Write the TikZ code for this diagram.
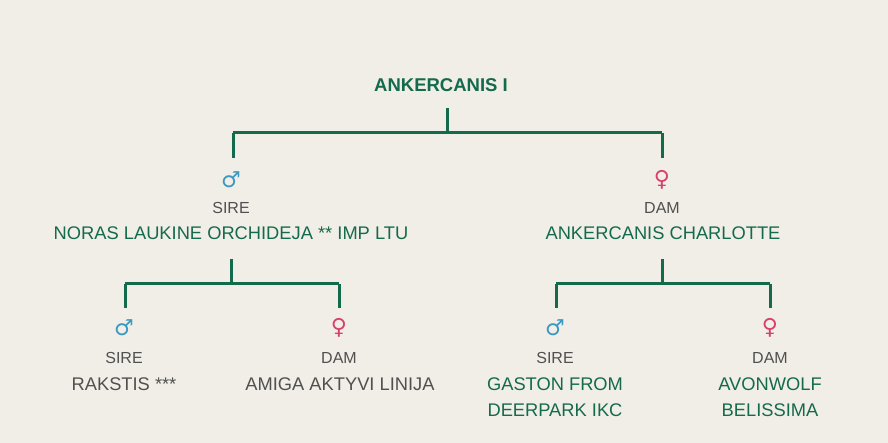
\documentclass[tikz,border=0pt]{standalone}
\usepackage{fontspec}
\setmainfont{Liberation Sans}
\newfontfamily\symf{DejaVu Sans}
\definecolor{bg}{HTML}{F1EEE7}
\definecolor{grn}{HTML}{146A4C}
\definecolor{mblue}{HTML}{3A98C2}
\definecolor{fpink}{HTML}{D6416D}
\definecolor{gtxt}{HTML}{505050}
\begin{document}
\begin{tikzpicture}[x=1pt,y=-1pt,
  ln/.style={draw=grn,line width=3pt},
  nm/.style={text=grn,font=\fontsize{18.3}{26}\selectfont,align=center,inner sep=0pt},
  rl/.style={text=gtxt,font=\fontsize{16}{18}\selectfont,inner sep=0pt},
  ms/.style={text=mblue,font=\symf\fontsize{22}{22}\selectfont,inner sep=0pt},
  fs/.style={text=fpink,font=\symf\fontsize{22}{22}\selectfont,inner sep=0pt}]
\fill[bg] (0,0) rectangle (888,443);
\useasboundingbox (0,0) rectangle (888,443);
\node[nm,font=\bfseries\fontsize{18.5}{20}\selectfont] (root) at (441,85) {ANKERCANIS I};
\coordinate (r0) at (447,108); \coordinate (r1) at (447,133);
\coordinate (rl) at (233,133); \coordinate (rr) at (662,133);
\coordinate (rld) at (233,158); \coordinate (rrd) at (662,158);
\draw[ln] (r0)--(r1); \draw[ln] (rl)--(rr); \draw[ln] (rl)--(rld); \draw[ln] (rr)--(rrd);
\node[ms] (s1) at (231,180) {♂};
\node[rl] (s1r) at (231,208) {SIRE};
\node[nm] (s1n) at (231,233) {NORAS LAUKINE ORCHIDEJA ** IMP LTU};
\node[fs] (d1) at (662,180) {♀};
\node[rl] (d1r) at (662,208) {DAM};
\node[nm] (d1n) at (663,233) {ANKERCANIS CHARLOTTE};
\coordinate (a0) at (231,259); \coordinate (a1) at (231,284);
\coordinate (al) at (125,284); \coordinate (ar) at (339,284);
\coordinate (ald) at (125,308); \coordinate (ard) at (339,308);
\draw[ln] (a0)--(a1); \draw[ln] (al)--(ar); \draw[ln] (al)--(ald); \draw[ln] (ar)--(ard);
\coordinate (b0) at (662,259); \coordinate (b1) at (662,284);
\coordinate (bl) at (556,284); \coordinate (br) at (770,284);
\coordinate (bld) at (556,308); \coordinate (brd) at (770,308);
\draw[ln] (b0)--(b1); \draw[ln] (bl)--(br); \draw[ln] (bl)--(bld); \draw[ln] (br)--(brd);
\node[ms] (s2) at (124,328) {♂};
\node[rl] (s2r) at (124,358) {SIRE};
\node[nm,text=gtxt] (s2n) at (124,384) {RAKSTIS ***};
\node[fs] (d2) at (339,328) {♀};
\node[rl] (d2r) at (339,358) {DAM};
\node[nm,text=gtxt] (d2n) at (340,384) {AMIGA AKTYVI LINIJA};
\node[ms] (s3) at (555,328) {♂};
\node[rl] (s3r) at (555,358) {SIRE};
\node[nm] (s3n) at (555,397) {GASTON FROM\\DEERPARK IKC};
\node[fs] (d3) at (770,328) {♀};
\node[rl] (d3r) at (770,358) {DAM};
\node[nm] (d3n) at (770,397) {AVONWOLF\\BELISSIMA};
\end{tikzpicture}
\end{document}
